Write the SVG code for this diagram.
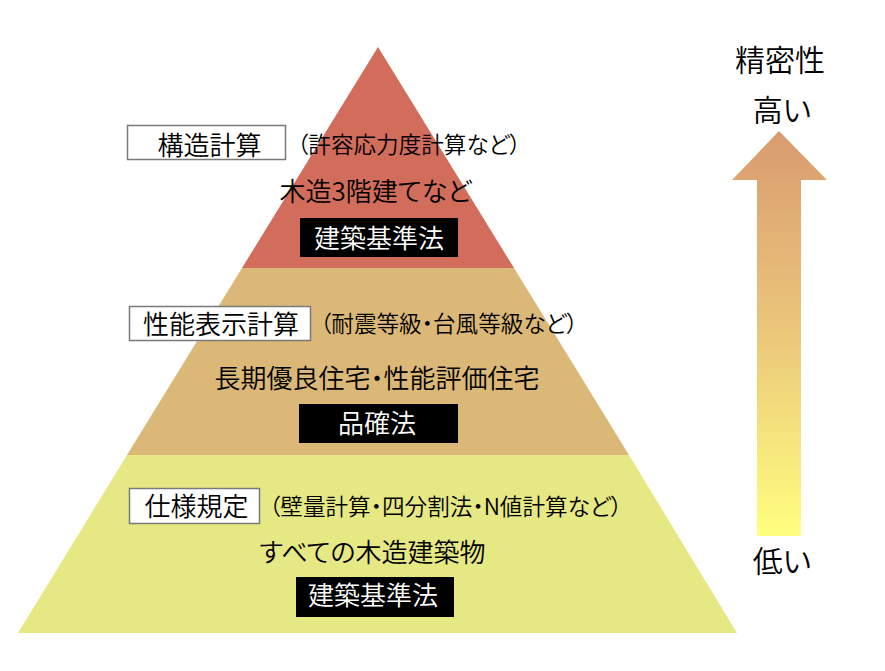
<svg xmlns="http://www.w3.org/2000/svg" width="885" height="671" viewBox="0 0 885 671">
<defs>
<linearGradient id="arrowGrad" x1="0" y1="0" x2="0" y2="1">
<stop offset="0" stop-color="#D99B70"/>
<stop offset="0.5" stop-color="#EBC77A"/>
<stop offset="1" stop-color="#FFFF7F"/>
</linearGradient>
<style>
text{font-family:"Noto Sans CJK JP","Noto Sans",sans-serif;fill:#000;font-weight:350;font-feature-settings:"palt";}
.main{font-size:26px;text-anchor:middle;}
.note{font-size:22.6px;}
.law{font-size:26px;text-anchor:middle;fill:#fff;}
.side{font-size:30px;text-anchor:middle;}
.wbox{fill:#fff;stroke:#7a7a7a;stroke-width:1.5;}
.bbox{fill:#000;}
</style>
</defs>
<rect width="885" height="671" fill="#fff"/>

<g id="layer-top">
<polygon points="378,47 242,268 514,268" fill="#D26C5B"/>
<rect class="wbox" x="127.5" y="125.5" width="158" height="34"/>
<text class="main" x="209.5" y="154.5">構造計算</text>
<text class="note" x="297" y="153">（許容応力度計算など）</text>
<text class="main" x="375.5" y="201">木造3階建てなど</text>
<rect class="bbox" x="300" y="218" width="158" height="39"/>
<text class="law" x="379" y="248">建築基準法</text>
</g>

<g id="layer-middle">
<polygon points="242,268 514,268 629,455 127,455" fill="#DBB877"/>
<rect class="wbox" x="129.5" y="306.5" width="181" height="34"/>
<text class="main" x="221" y="333.5">性能表示計算</text>
<text class="note" x="320" y="332">（耐震等級・台風等級など）</text>
<text class="main" x="377" y="388">長期優良住宅・性能評価住宅</text>
<rect class="bbox" x="299" y="404" width="159" height="39"/>
<text class="law" x="377" y="433">品確法</text>
</g>

<g id="layer-bottom">
<polygon points="127,455 629,455 737,633 18,633" fill="#E6E884"/>
<rect class="wbox" x="129.5" y="488.5" width="130" height="35"/>
<text class="main" x="196.5" y="516">仕様規定</text>
<text class="note" x="269" y="515">（壁量計算・四分割法・N値計算など）</text>
<text class="main" x="372.5" y="562">すべての木造建築物</text>
<rect class="bbox" x="296" y="577" width="158" height="40"/>
<text class="law" x="373" y="605">建築基準法</text>
</g>

<g id="precision-axis">
<text class="side" x="780" y="71">精密性</text>
<text class="side" x="782" y="121">高い</text>
<polygon points="779,131 827,180 801,180 801,536 757,536 757,180 732,180" fill="url(#arrowGrad)"/>
<text class="side" x="782" y="572">低い</text>
</g>
</svg>
